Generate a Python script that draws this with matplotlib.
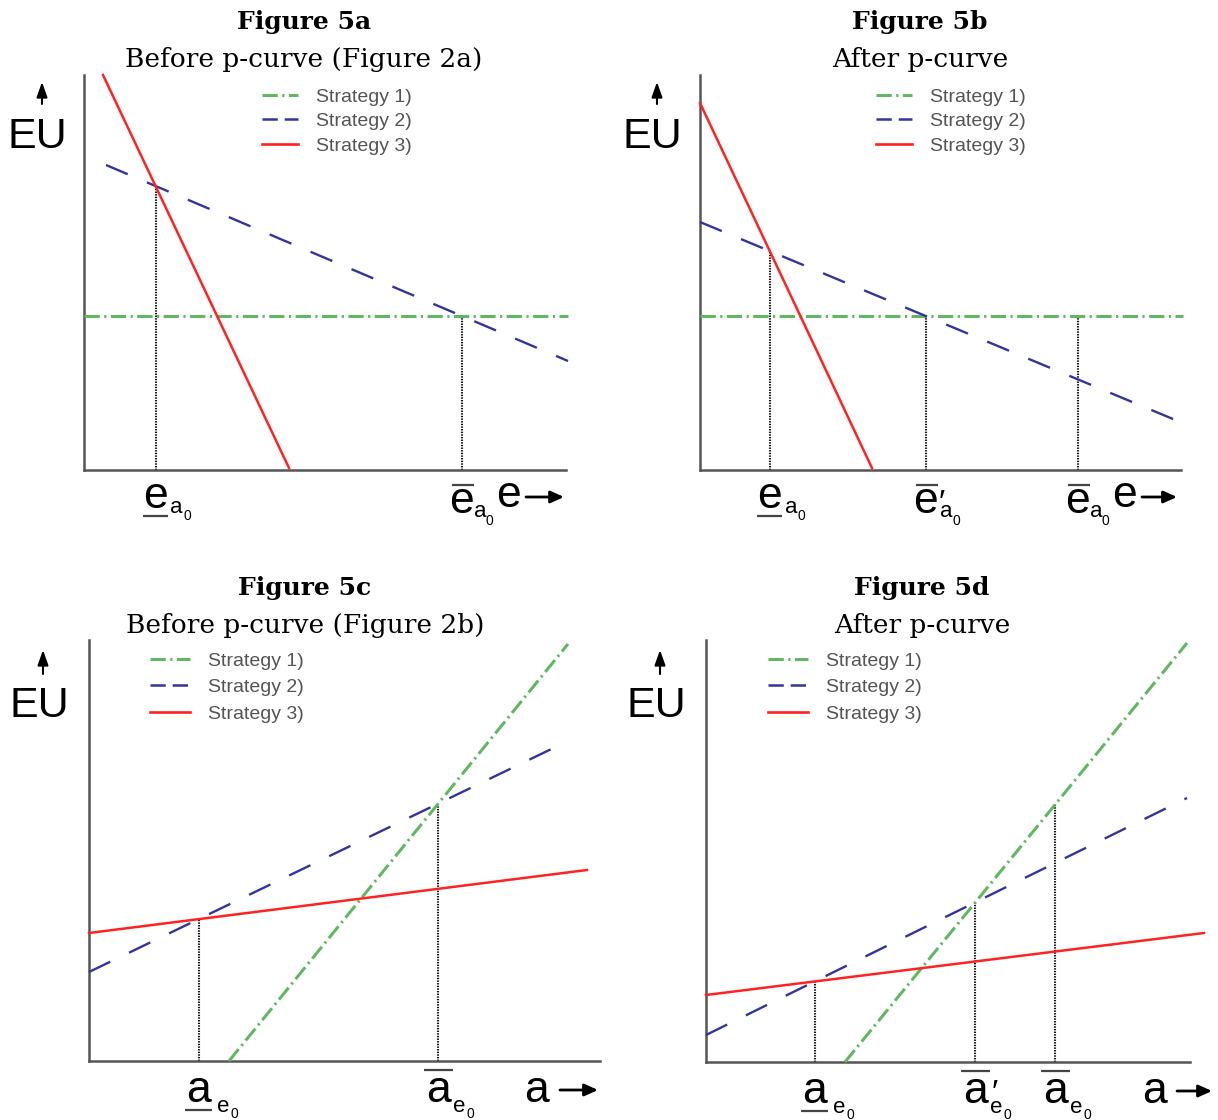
import matplotlib
matplotlib.use('Agg')
import matplotlib.pyplot as plt
from matplotlib.lines import Line2D

# figure size in pixels (dpi 100)
FIG_W, FIG_H = 1218, 1120

plt.rcParams['font.family'] = ['Liberation Sans', 'DejaVu Sans']
plt.rcParams['lines.scale_dashes'] = False

# -------------------- data (units: arbitrary EU / e / a scale) --------------------
# Figure 5a : before p-curve, x = e
A_RED_X, A_RED_Y = [19, 205], [395, 2]
A_BLUE_X, A_BLUE_Y = [22, 484], [305, 109]
A_GREEN_X, A_GREEN_Y = [0, 484], [154, 154]

# Figure 5b : after p-curve, x = e
B_RED_X, B_RED_Y = [0, 172], [367, 2]
B_BLUE_X, B_BLUE_Y = [0, 485], [248, 46]
B_GREEN_X, B_GREEN_Y = [0, 483], [154, 154]

# Figure 5c : before p-curve, x = a
C_RED_X, C_RED_Y = [0, 498], [128, 191]
C_BLUE_X, C_BLUE_Y = [0, 479], [89, 320]
C_GREEN_X, C_GREEN_Y = [140, 479], [0, 417]

# Figure 5d : after p-curve, x = a
D_RED_X, D_RED_Y = [0, 498], [67, 129]
D_BLUE_X, D_BLUE_Y = [0, 481], [27, 264]
D_GREEN_X, D_GREEN_Y = [139, 481], [0, 419]

LEGEND_LABELS = ['Strategy 1)', 'Strategy 2)', 'Strategy 3)']
TITLES = ['Figure 5a', 'Figure 5b', 'Figure 5c', 'Figure 5d']
SUBTITLES = ['Before p-curve (Figure 2a)', 'After p-curve',
             'Before p-curve (Figure 2b)', 'After p-curve']

# -------------------- style --------------------
GREEN = '#62b862'
BLUE = '#34349c'
RED = '#ff2222'
SPINE = '#555555'
GREEN_LS = (0, (11, 3.2, 1.6, 3.2))
BLUE_LS = (0, (17, 15))
DOT_LS = (0, (1.0, 0.9))

# label layout (pixel offsets below the x axis)
LAYOUT = {
    'e': {'under': dict(base=38, bar=46, bl=-13, br=12, sdx=21, sb=43, zdx=32, zb=50),
          'over': dict(base=43, bar=15, bl=-10, br=12, sdx=18, sb=47, zdx=27, zb=55)},
    'a': {'under': dict(base=41, bar=49, bl=-14, br=13, sdx=25, sb=51, zdx=36, zb=57),
          'over': dict(base=41, bar=9, bl=-14, br=15, sdx=21, sb=51, zdx=32, zb=57)},
}


def cross(x1, y1, x2, y2):
    m1 = (y1[1] - y1[0]) / (x1[1] - x1[0])
    m2 = (y2[1] - y2[0]) / (x2[1] - x2[0])
    b1 = y1[0] - m1 * x1[0]
    b2 = y2[0] - m2 * x2[0]
    x = (b2 - b1) / (m1 - m2)
    return x, m1 * x + b1


def y_at(xs, ys, x):
    m = (ys[1] - ys[0]) / (xs[1] - xs[0])
    return ys[0] + m * (x - xs[0])


fig = plt.figure(figsize=(FIG_W / 100, FIG_H / 100), dpi=100)


def make_axes(x0, y0, w, h):
    ax = fig.add_axes([x0 / FIG_W, 1 - y0 / FIG_H, w / FIG_W, h / FIG_H])
    ax.set_xlim(0, w)
    ax.set_ylim(0, h)
    ax.spines['top'].set_visible(False)
    ax.spines['right'].set_visible(False)
    for s in ['left', 'bottom']:
        ax.spines[s].set_linewidth(1.8)
        ax.spines[s].set_color(SPINE)
    ax.set_xticks([])
    ax.set_yticks([])
    ax.patch.set_alpha(0)
    return ax


def draw_lines(ax, gx, gy, bx, by, rx, ry):
    ax.plot(gx, gy, color=GREEN, lw=2.2, ls=GREEN_LS, clip_on=False, zorder=3)
    ax.plot(bx, by, color=BLUE, lw=1.7, ls=BLUE_LS, clip_on=False, zorder=3)
    ax.plot(rx, ry, color=RED, lw=1.8, clip_on=False, zorder=4)


def dotted(ax, x, top):
    ax.plot([x, x], [0, top], color='#111111', lw=1.5, ls=DOT_LS, clip_on=False, zorder=2)


def mark_label(ax, x, main, sub, bar, prime=False):
    L = LAYOUT[main][bar]
    sdx, zdx = L['sdx'], L['zdx']
    if prime and main == 'e':
        sdx, zdx = sdx + 3, zdx + 4
    ax.text(x, -L['base'], main, size=32, ha='center', va='baseline', clip_on=False)
    ax.plot([x + L['bl'], x + L['br']], [-L['bar'], -L['bar']], color='#444444',
            lw=1.6, clip_on=False, solid_capstyle='butt')
    ax.text(x + sdx, -L['sb'], sub, size=16, ha='center', va='baseline', clip_on=False)
    ax.text(x + zdx, -L['zb'], '0', size=10, ha='center', va='baseline', clip_on=False)
    if prime:
        ax.text(x + (16 if main == 'e' else 19), -L['base'], '\u2032', size=24,
                ha='center', va='baseline', clip_on=False)


def axis_name(ax, name, x, base, a0, a1, ay):
    ax.text(x, -base, name, size=32, ha='center', va='baseline', clip_on=False)
    ax.annotate('', xy=(a1, -ay), xytext=(a0, -ay), annotation_clip=False,
                arrowprops=dict(arrowstyle='-|>,head_length=0.8,head_width=0.36',
                                lw=2.0, color='black', shrinkA=0, shrinkB=0))


def eu_label(ax, h, tx, base, axx, tail, tip):
    ax.text(tx, h - base, 'EU', size=31, ha='center', va='baseline', clip_on=False)
    ax.annotate('', xy=(axx, h - tip), xytext=(axx, h - tail), annotation_clip=False,
                arrowprops=dict(arrowstyle='-|>,head_length=0.9,head_width=0.32',
                                lw=1.5, color='black', shrinkA=0, shrinkB=0))


def legend(ax, lx, ly, hlen, spacing):
    handles = [Line2D([], [], color=GREEN, lw=2.2, ls=GREEN_LS),
               Line2D([], [], color=BLUE, lw=1.8, ls=(0, (11, 5))),
               Line2D([], [], color=RED, lw=1.9)]
    ax.legend(handles, LEGEND_LABELS, loc='upper left', bbox_to_anchor=(lx, ly),
              bbox_transform=ax.transData, frameon=False, borderpad=0,
              borderaxespad=0, handlelength=hlen, handletextpad=0.93,
              labelspacing=spacing, prop={'size': 14}, labelcolor='#555555')


def title(cx, cy, i):
    fig.text(cx / FIG_W, 1 - cy / FIG_H, TITLES[i], ha='center', va='center',
             family='DejaVu Serif', weight='bold', size=18)
    fig.text(cx / FIG_W, 1 - (cy + 38) / FIG_H, SUBTITLES[i], ha='center',
             va='center', family='DejaVu Serif', size=19)


# -------------------- Figure 5a --------------------
ax = make_axes(84, 470, 482, 395)
draw_lines(ax, A_GREEN_X, A_GREEN_Y, A_BLUE_X, A_BLUE_Y, A_RED_X, A_RED_Y)
a1 = cross(A_RED_X, A_RED_Y, A_BLUE_X, A_BLUE_Y)
a2 = cross(A_BLUE_X, A_BLUE_Y, A_GREEN_X, A_GREEN_Y)
dotted(ax, a1[0], a1[1])
dotted(ax, a2[0], a2[1])
mark_label(ax, a1[0], 'e', 'a', 'under')
mark_label(ax, a2[0], 'e', 'a', 'over')
axis_name(ax, 'e', 425, 37, 442, 480, 27)
eu_label(ax, 395, -47, 73, -42, 29, 7)
legend(ax, 178, 382, 1.85, 0.36)
title(304, 22, 0)

# -------------------- Figure 5b --------------------
ax = make_axes(700, 470, 481, 395)
draw_lines(ax, B_GREEN_X, B_GREEN_Y, B_BLUE_X, B_BLUE_Y, B_RED_X, B_RED_Y)
b1 = cross(B_RED_X, B_RED_Y, B_BLUE_X, B_BLUE_Y)
b2 = cross(B_BLUE_X, B_BLUE_Y, B_GREEN_X, B_GREEN_Y)
b3 = a2[0]
dotted(ax, b1[0], b1[1])
dotted(ax, b2[0], b2[1])
dotted(ax, b3, y_at(B_GREEN_X, B_GREEN_Y, b3))
mark_label(ax, b1[0], 'e', 'a', 'under')
mark_label(ax, b2[0], 'e', 'a', 'over', prime=True)
mark_label(ax, b3, 'e', 'a', 'over')
axis_name(ax, 'e', 425, 37, 442, 477, 27)
eu_label(ax, 395, -48, 73, -43, 29, 7)
legend(ax, 176, 382, 1.85, 0.36)
title(920, 22, 1)

# -------------------- Figure 5c --------------------
ax = make_axes(89, 1061, 511, 421)
draw_lines(ax, C_GREEN_X, C_GREEN_Y, C_BLUE_X, C_BLUE_Y, C_RED_X, C_RED_Y)
c1 = cross(C_RED_X, C_RED_Y, C_BLUE_X, C_BLUE_Y)
c2 = cross(C_BLUE_X, C_BLUE_Y, C_GREEN_X, C_GREEN_Y)
dotted(ax, c1[0], c1[1])
dotted(ax, c2[0], c2[1])
mark_label(ax, c1[0], 'a', 'e', 'under')
mark_label(ax, c2[0], 'a', 'e', 'over')
axis_name(ax, 'a', 447, 41, 471, 509, 29)
eu_label(ax, 421, -50, 77, -46, 34, 10)
legend(ax, 61, 409, 2.05, 0.46)
title(305, 588, 2)

# -------------------- Figure 5d --------------------
ax = make_axes(706, 1062, 484, 422)
draw_lines(ax, D_GREEN_X, D_GREEN_Y, D_BLUE_X, D_BLUE_Y, D_RED_X, D_RED_Y)
d1 = cross(D_RED_X, D_RED_Y, D_BLUE_X, D_BLUE_Y)
d2 = cross(D_BLUE_X, D_BLUE_Y, D_GREEN_X, D_GREEN_Y)
d3 = c2[0]
dotted(ax, d1[0], d1[1])
dotted(ax, d2[0], d2[1])
dotted(ax, d3, y_at(D_GREEN_X, D_GREEN_Y, d3))
mark_label(ax, d1[0], 'a', 'e', 'under')
mark_label(ax, d2[0], 'a', 'e', 'over', prime=True)
mark_label(ax, d3, 'a', 'e', 'over')
axis_name(ax, 'a', 448, 41, 471, 506, 29)
eu_label(ax, 422, -50, 77, -46, 34, 10)
legend(ax, 62, 410, 2.05, 0.46)
title(922, 588, 3)

fig.savefig('out.png', dpi=100)
